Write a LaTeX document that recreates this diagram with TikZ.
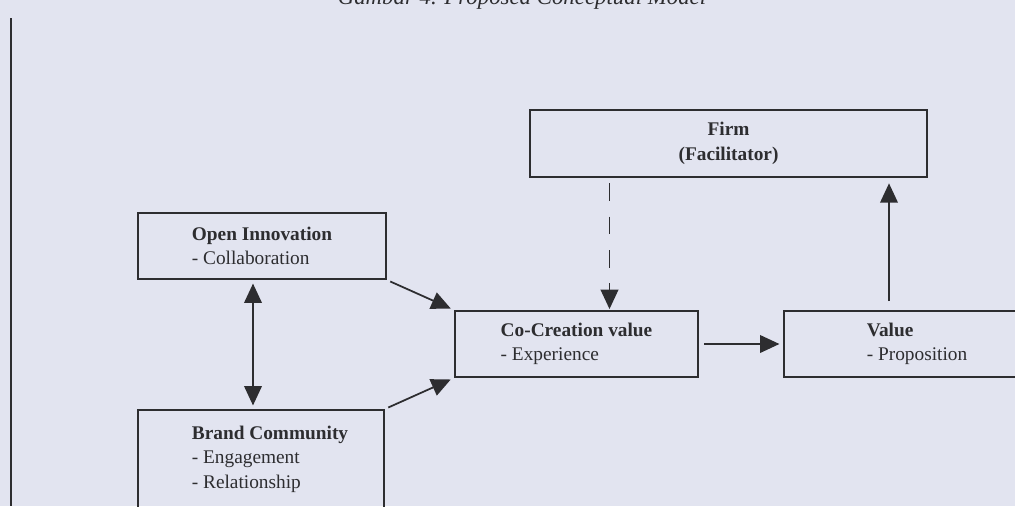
\documentclass[tikz,border=0pt]{standalone}
\usepackage{fontspec}
\setmainfont{Liberation Serif}
\usepackage{tikz}
\usetikzlibrary{arrows.meta,calc}
\definecolor{paper}{RGB}{226,228,240}
\definecolor{ink}{RGB}{45,45,48}
\tikzset{
	box/.style={
			rectangle, draw=ink, line width=1.2pt, text=ink, align=left,
			font=\fontsize{11}{14}\selectfont, inner sep=0pt
		},
	link/.style={
			draw=ink, line width=1pt, -{Triangle[length=11pt,width=10pt]}
		}
}

\begin{document}
\begin{tikzpicture}[node distance=4.26cm]
    \fill [paper] (0,0) rectangle (20.3,10.12);
    \useasboundingbox (0,0) rectangle (20.3,10.12);
    \clip (0,0) rectangle (20.3,10.12);
    \node (title) [anchor=base, text=ink, font=\fontsize{13}{15}\selectfont\itshape] at (10.44,10.03) {Gambar 4. Proposed Conceptual Model};
    \coordinate (margintop) at (0.22,9.76);
    \coordinate (marginbot) at (0.22,0);
    \draw [ink, line width=0.9pt] (margintop) -- (marginbot);
    \node (open) [box, minimum width=4.96cm, minimum height=1.32cm] at (5.24,5.2) {\textbf{Open Innovation}\\- Collaboration};
    \node (brand) [box, minimum width=4.92cm, minimum height=1.96cm, below of=open, xshift=-0.02cm] {\hspace*{0.36cm}\textbf{Brand Community}\\\hspace*{0.36cm}- Engagement\\\hspace*{0.36cm}- Relationship};
    \node (cocreation) [box, minimum width=4.86cm, minimum height=1.32cm] at (11.53,3.24) {\textbf{Co-Creation value}\\- Experience};
    \node (firm) [box, align=center, minimum width=7.94cm, minimum height=1.34cm] at (14.57,7.25) {\textbf{Firm}\\\textbf{(Facilitator)}};
    \node (value) [box, minimum width=5.32cm, minimum height=1.32cm, right of=cocreation, node distance=6.81cm] {\textbf{Value}\\- Proposition};
    \draw [link, {Triangle[length=11pt,width=10pt]}-{Triangle[length=11pt,width=10pt]}, shorten <=2pt, shorten >=2pt] ([xshift=-0.18cm]open.south) -- ([xshift=-0.16cm]brand.north);
    \draw [link, shorten <=2pt, shorten >=2pt] (open.south east) -- (cocreation.north west);
    \draw [link, shorten <=2pt, shorten >=2pt] (brand.north east) -- (cocreation.south west);
    \draw [link, shorten <=3pt, shorten >=2pt] (cocreation.east) -- (value.west);
    \draw [link, dash pattern=on 10pt off 9pt, shorten <=3pt, shorten >=0.5pt] ([xshift=-2.38cm]firm.south) -- ([xshift=-2.38cm]firm.south |- cocreation.north);
    \draw [link, shorten <=5pt, shorten >=3pt] ([xshift=-0.56cm]value.north) -- ([xshift=-0.56cm]value.north |- firm.south);
\end{tikzpicture}
\end{document}
